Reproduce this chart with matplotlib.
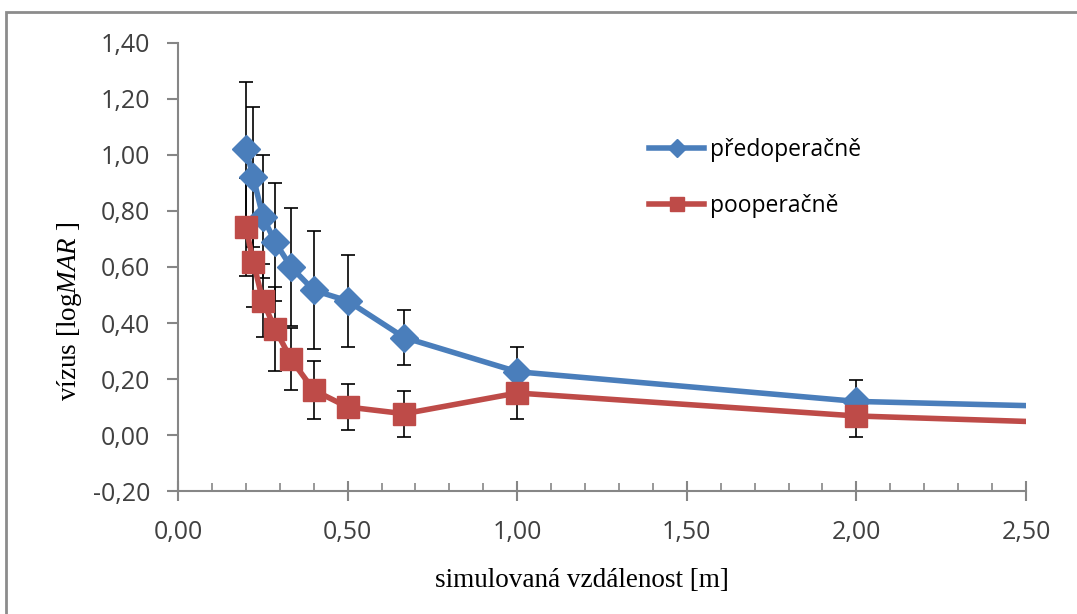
import matplotlib.pyplot as plt
from matplotlib.patches import Rectangle
from matplotlib.ticker import FuncFormatter

# data
vzdalenost = [0.2, 0.222, 0.25, 0.286, 0.333, 0.4, 0.5, 0.667, 1.0, 2.0, 4.0]
pred = [1.02, 0.92, 0.78, 0.69, 0.60, 0.517, 0.479, 0.348, 0.226, 0.12, 0.06]
pred_err = [0.24, 0.25, 0.22, 0.21, 0.21, 0.21, 0.165, 0.097, 0.09, 0.076, 0.07]
po = [0.743, 0.618, 0.479, 0.379, 0.271, 0.16, 0.10, 0.076, 0.15, 0.068, -0.01]
po_err = [0.175, 0.16, 0.13, 0.15, 0.11, 0.104, 0.082, 0.082, 0.094, 0.074, 0.07]

modra = "#4A7EBB"
cervena = "#BE4B48"

plt.rcParams['mathtext.fontset'] = 'custom'
plt.rcParams['mathtext.rm'] = 'Liberation Serif'
plt.rcParams['mathtext.it'] = 'Liberation Serif:italic'

fig = plt.figure(figsize=(10.77, 6.14), dpi=100)
ax = fig.add_axes([0.1653, 0.2003, 0.7873, 0.7297])

# ramecek kolem grafu
fig.patches.append(Rectangle((6 / 1077, -0.05), 1.2, 1 - 12 / 614 + 0.05,
                             transform=fig.transFigure, fill=False,
                             edgecolor="#8c8c8c", linewidth=2))

ax.errorbar(vzdalenost, pred, yerr=pred_err, fmt="none", ecolor="black",
            elinewidth=1.2, capsize=5, capthick=1.2, zorder=2)
ax.errorbar(vzdalenost, po, yerr=po_err, fmt="none", ecolor="black",
            elinewidth=1.2, capsize=5, capthick=1.2, zorder=2)

ax.plot(vzdalenost, pred, color=modra, linewidth=4, marker="D",
        markersize=14, label="předoperačně", zorder=3)
ax.plot(vzdalenost, po, color=cervena, linewidth=4, marker="s",
        markersize=16, label="pooperačně", zorder=4)

ax.set_xlim(0, 2.5)
ax.set_ylim(-0.2, 1.4)
ax.set_xticks([0, 0.5, 1.0, 1.5, 2.0, 2.5])
ax.set_xticks([0.1 * i for i in range(26)], minor=True)
ax.set_yticks([-0.2, 0, 0.2, 0.4, 0.6, 0.8, 1.0, 1.2, 1.4])

carka = FuncFormatter(lambda v, p: f"{v:.2f}".replace(".", ",").replace("-0,00", "0,00"))
ax.xaxis.set_major_formatter(carka)
ax.yaxis.set_major_formatter(carka)

for s in ["top", "right"]:
    ax.spines[s].set_visible(False)
for s in ["left", "bottom"]:
    ax.spines[s].set_color("#868686")
    ax.spines[s].set_linewidth(1.5)
ax.tick_params(axis="y", which="major", direction="out", length=8,
               width=1.5, color="#868686", labelsize=18, labelcolor="#404040", pad=12)
ax.tick_params(axis="x", which="major", direction="inout", length=14,
               width=1.5, color="#868686", labelsize=18, labelcolor="#404040", pad=14)
ax.tick_params(axis="x", which="minor", direction="in", length=6,
               width=1.2, color="#868686")
for t in ax.get_xticklabels() + ax.get_yticklabels():
    t.set_fontfamily("Open Sans")

ax.set_xlabel("simulovaná vzdálenost [m]", fontfamily="Liberation Serif",
              fontsize=19.5)
ax.set_ylabel(r"vízus [log$\mathit{MAR}$ ]", fontfamily="Liberation Serif",
              fontsize=19.5)
ax.xaxis.set_label_coords(0.476, -0.172)
ax.yaxis.set_label_coords(-0.111, 0.40)

leg = ax.legend(loc="upper left", bbox_to_anchor=(0.545, 0.808), frameon=False,
                labelspacing=1.37, handlelength=2.4, handletextpad=0.25,
                markerscale=0.65, borderaxespad=0,
                prop={"family": "Open Sans", "size": 16.5})

fig.savefig("out.png", dpi=100)
